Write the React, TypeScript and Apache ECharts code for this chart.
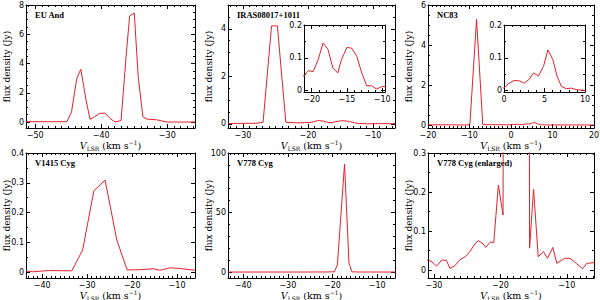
import React, { useEffect, useRef } from "react";
import * as echarts from "echarts";

// ---------- data (velocity km/s, flux density Jy) ----------
const euAndVel = [-51.4, -48, -45.2, -44.5, -43.7, -43.1, -42.3, -41.7, -41.0, -40.2, -39.4, -38.7, -37.9, -37.0, -36.2, -35.7, -35.0, -34.4, -33.7, -33.1, -31.6, -30.1, -25.8];
const euAndFlux = [0.02, 0.02, 0.02, 0.7, 3.0, 3.6, 1.5, 0.18, 0.36, 0.6, 0.6, 0.25, 0.0, 0.1, 4.7, 7.25, 7.45, 3.1, 0.36, 0.2, 0.15, 0.0, 0.0];

const irasVel = [-32.3, -28, -26.9, -25.6, -24.7, -23.4, -22, -21.1, -20.5, -19.8, -19.1, -18.4, -17.7, -17.0, -16.3, -15.8, -15.0, -14.3, -13.6, -12.9, -12.2, -11.5, -10.8, -10.0, -9.6, -6.6];
const irasFlux = [0.02, 0.03, 0.07, 4.12, 4.12, 0.07, 0.05, 0.045, 0.061, 0.058, 0.094, 0.145, 0.126, 0.069, 0.054, 0.094, 0.132, 0.129, 0.104, 0.054, 0.015, 0.015, 0.005, 0.013, 0.012, 0.01];

const nc83Vel = [-20, -15, -10.6, -9.9, -8.3, -6.8, -3, 0.0, 0.63, 1.25, 1.88, 2.5, 3.13, 3.63, 4.25, 4.88, 5.42, 6.04, 6.54, 7.08, 7.7, 8.3, 8.96, 10, 15, 20];
const nc83Flux = [0.01, 0.01, 0.0, 0.06, 5.28, 0.02, 0.015, 0.008, 0.023, 0.031, 0.03, 0.023, 0.035, 0.054, 0.045, 0.074, 0.124, 0.094, 0.045, 0.013, 0.006, 0.008, 0.003, 0.001, 0.005, 0.0];

const v1415Vel = [-43.6, -42.0, -38.6, -33.4, -31.0, -28.5, -26.0, -23.4, -21.1, -18.2, -15.3, -13.8, -11.6, -9.3, -6.0];
const v1415Flux = [0.003, 0.001, 0.005, 0.004, 0.074, 0.273, 0.309, 0.108, 0.007, 0.008, 0.011, 0.006, 0.014, 0.012, 0.006];

const v778Vel = [-43.4, -37, -31.5, -30.9, -30.3, -29.6, -28.8, -28.1, -27.6, -26.8, -26.1, -25.3, -24.6, -23.8, -23.3, -22.6, -22.2, -21.5, -21.0, -20.3, -19.6, -18.9, -17.3, -16.3, -15.6, -15.0, -14.3, -13.5, -12.9, -12.1, -11.5, -10.3, -9.5, -7.6, -7.0, -5.8];
const v778Flux = [0.02, 0.02, 0.02, 0.026, 0.021, 0.01, 0.026, 0.024, 0.004, 0.012, 0.026, 0.034, 0.047, 0.068, 0.075, 0.067, 0.058, 0.072, 0.07, 0.218, 0.141, 6.0, 90.8, 7.3, 0.056, 0.207, 0.034, 0.047, 0.03, 0.058, 0.017, 0.03, 0.03, 0.003, 0.017, 0.019];

// ---------- tick labels ----------
const euAndXTicks = [-50, -40, -30];
const euAndYTicks = [0, 2, 4, 6, 8];
const irasXTicks = [-30, -20, -10];
const irasYTicks = [0, 2, 4];
const nc83XTicks = [-20, -10, 0, 10, 20];
const nc83YTicks = [0, 2, 4, 6];
const v1415XTicks = [-40, -30, -20, -10];
const v1415YTicks = [0, 0.1, 0.2, 0.3, 0.4];
const v778XTicks = [-40, -30, -20, -10];
const v778YTicks = [0, 50, 100];
const v778eXTicks = [-30, -20, -10];
const v778eYTicks = [0, 0.1, 0.2, 0.3];
const irasInsetXTicks = [-20, -15, -10];
const nc83InsetXTicks = [0, 5, 10];
const insetYTicks = [0, 0.1, 0.2];

const RED = "#e3202c";

const zip = (a: number[], b: number[]) => a.map((v, i) => [v, b[i]]);

function steps(min: number, max: number, step: number) {
  const out: number[] = [];
  const start = Math.ceil(min / step - 1e-9);
  for (let k = start; k * step <= max + 1e-9; k++) out.push(+(k * step).toFixed(6));
  return out;
}

const fmt = (v: number) => (v < 0 ? "\u2212" + String(Math.abs(v)) : String(v));

type Panel = {
  name: string;
  vel: number[];
  flux: number[];
  box: [number, number, number, number];
  x: [number, number];
  y: [number, number];
  xTicks: number[];
  yTicks: number[];
  xMinor: number;
  yMinor: number;
  titles: boolean;
};

const panels: Panel[] = [
  { name: "EU And", vel: euAndVel, flux: euAndFlux, box: [26, 5, 169, 123], x: [-51.4, -25.8], y: [-0.41, 8], xTicks: euAndXTicks, yTicks: euAndYTicks, xMinor: 1, yMinor: 0.5, titles: true },
  { name: "IRAS08017+1011", vel: irasVel, flux: irasFlux, box: [228, 5, 167, 123], x: [-32.3, -6.6], y: [-0.17, 5], xTicks: irasXTicks, yTicks: irasYTicks, xMinor: 1, yMinor: 0.5, titles: true },
  { name: "NC83", vel: nc83Vel, flux: nc83Flux, box: [428, 5, 166, 123], x: [-20, 20], y: [-0.15, 6], xTicks: nc83XTicks, yTicks: nc83YTicks, xMinor: 1, yMinor: 0.5, titles: true },
  { name: "V1415 Cyg", vel: v1415Vel, flux: v1415Flux, box: [26, 153, 169, 125], x: [-43.6, -6], y: [-0.02, 0.4], xTicks: v1415XTicks, yTicks: v1415YTicks, xMinor: 1, yMinor: 0.05, titles: true },
  { name: "V778 Cyg", vel: v778Vel, flux: v778Flux, box: [228, 153, 167, 125], x: [-43.4, -6], y: [-5, 100], xTicks: v778XTicks, yTicks: v778YTicks, xMinor: 1, yMinor: 10, titles: true },
  { name: "V778 Cyg (enlarged)", vel: v778Vel, flux: v778Flux, box: [428, 153, 166, 125], x: [-30.9, -5.9], y: [-0.0205, 0.3], xTicks: v778eXTicks, yTicks: v778eYTicks, xMinor: 1, yMinor: 0.05, titles: true },
  { name: "", vel: irasVel, flux: irasFlux, box: [304, 25, 81, 67], x: [-21.1, -9.6], y: [-0.004, 0.2], xTicks: irasInsetXTicks, yTicks: insetYTicks, xMinor: 1, yMinor: 0.05, titles: false },
  { name: "", vel: nc83Vel, flux: nc83Flux, box: [504, 25, 81, 67], x: [0, 10], y: [-0.004, 0.2], xTicks: nc83InsetXTicks, yTicks: insetYTicks, xMinor: 1, yMinor: 0.05, titles: false },
];

const labelStyle = { color: "#000", fontFamily: "DejaVu Sans", fontSize: 8 };
const titleFont = "DejaVu Serif";

function tickAxis(gi: number, min: number, max: number, position: string, ticks: number[], len: number, showLine: boolean, labels?: number[], margin = 3) {
  return {
    type: "value",
    gridIndex: gi,
    min,
    max,
    position,
    splitLine: { show: false },
    splitArea: { show: false },
    axisLine: { show: showLine, onZero: false, lineStyle: { color: "#000", width: 1 } },
    axisTick: { show: true, inside: true, length: len, customValues: ticks, lineStyle: { color: "#000", width: 1 } },
    axisLabel: labels
      ? { show: true, customValues: labels, margin, formatter: fmt, ...labelStyle }
      : { show: false },
  } as any;
}

function buildOption() {
  const grid: any[] = [];
  const xAxis: any[] = [];
  const yAxis: any[] = [];
  const series: any[] = [];
  const graphic: any[] = [];

  panels.forEach((p, gi) => {
    const [left, top, width, height] = p.box;
    grid.push({ left, top, width, height, containLabel: false, outerBoundsMode: "none", show: !p.titles, backgroundColor: "#fff", borderWidth: 0 });
    const xMinorVals = steps(p.x[0], p.x[1], p.xMinor);
    const yMinorVals = steps(p.y[0], p.y[1], p.yMinor);

    const xi = xAxis.length;
    const bottom = tickAxis(gi, p.x[0], p.x[1], "bottom", p.xTicks, 4, true, p.xTicks, 3);
    if (p.titles) {
      Object.assign(bottom, {
        name: "{i|V}{s|LSR} (km s{p|\u22121})",
        nameLocation: "middle",
        nameGap: 11,
        nameMoveOverlap: false,
        nameTextStyle: {
          color: "#000",
          fontFamily: titleFont,
          fontSize: 9.5,
          lineHeight: 12,
          rich: {
            i: { fontFamily: titleFont, fontStyle: "italic", fontSize: 9.5, lineHeight: 12, color: "#000" },
            s: { fontFamily: titleFont, fontSize: 6, lineHeight: 6, verticalAlign: "bottom", color: "#000" },
            p: { fontFamily: titleFont, fontSize: 6, lineHeight: 6, verticalAlign: "top", color: "#000" },
          },
        },
      });
    }
    xAxis.push(bottom);
    xAxis.push(tickAxis(gi, p.x[0], p.x[1], "bottom", xMinorVals, 2, false));
    xAxis.push(tickAxis(gi, p.x[0], p.x[1], "top", p.xTicks, 4, true));
    xAxis.push(tickAxis(gi, p.x[0], p.x[1], "top", xMinorVals, 2, false));

    const yi = yAxis.length;
    const leftAx = tickAxis(gi, p.y[0], p.y[1], "left", p.yTicks, 4, true, p.yTicks, 2);
    if (p.titles) {
      Object.assign(leftAx, {
        name: "flux density (Jy)",
        nameLocation: "middle",
        nameRotate: 90,
        nameGap: 15,
        nameMoveOverlap: false,
        nameTextStyle: { color: "#000", fontFamily: titleFont, fontSize: 9 },
      });
    }
    yAxis.push(leftAx);
    yAxis.push(tickAxis(gi, p.y[0], p.y[1], "left", yMinorVals, 2, false));
    yAxis.push(tickAxis(gi, p.y[0], p.y[1], "right", p.yTicks, 4, true));
    yAxis.push(tickAxis(gi, p.y[0], p.y[1], "right", yMinorVals, 2, false));

    series.push({
      type: "line",
      xAxisIndex: xi,
      yAxisIndex: yi,
      data: zip(p.vel, p.flux),
      showSymbol: false,
      symbol: "none",
      silent: true,
      clip: true,
      lineStyle: { color: RED, width: 1 },
      itemStyle: { color: RED },
      z: 3,
    });

    if (p.name) {
      graphic.push({
        type: "text",
        x: left + 9,
        y: top + 10,
        silent: true,
        style: {
          text: p.name,
          fill: "#000",
          fontFamily: "Liberation Serif",
          fontWeight: "bold",
          fontSize: 8.5,
          verticalAlign: "middle",
        },
      });
    }
  });

  return { animation: false, backgroundColor: "#fff", grid, xAxis, yAxis, series, graphic };
}

export default function App() {
  const ref = useRef<HTMLDivElement>(null);
  useEffect(() => {
    const chart = echarts.init(ref.current!, null, { renderer: "svg" });
    chart.setOption(buildOption() as any);
    return () => chart.dispose();
  }, []);
  return (
    <div
      ref={ref}
      style={{ position: "absolute", left: 0, top: 0, width: 600, height: 300, background: "#fff" }}
    />
  );
}
